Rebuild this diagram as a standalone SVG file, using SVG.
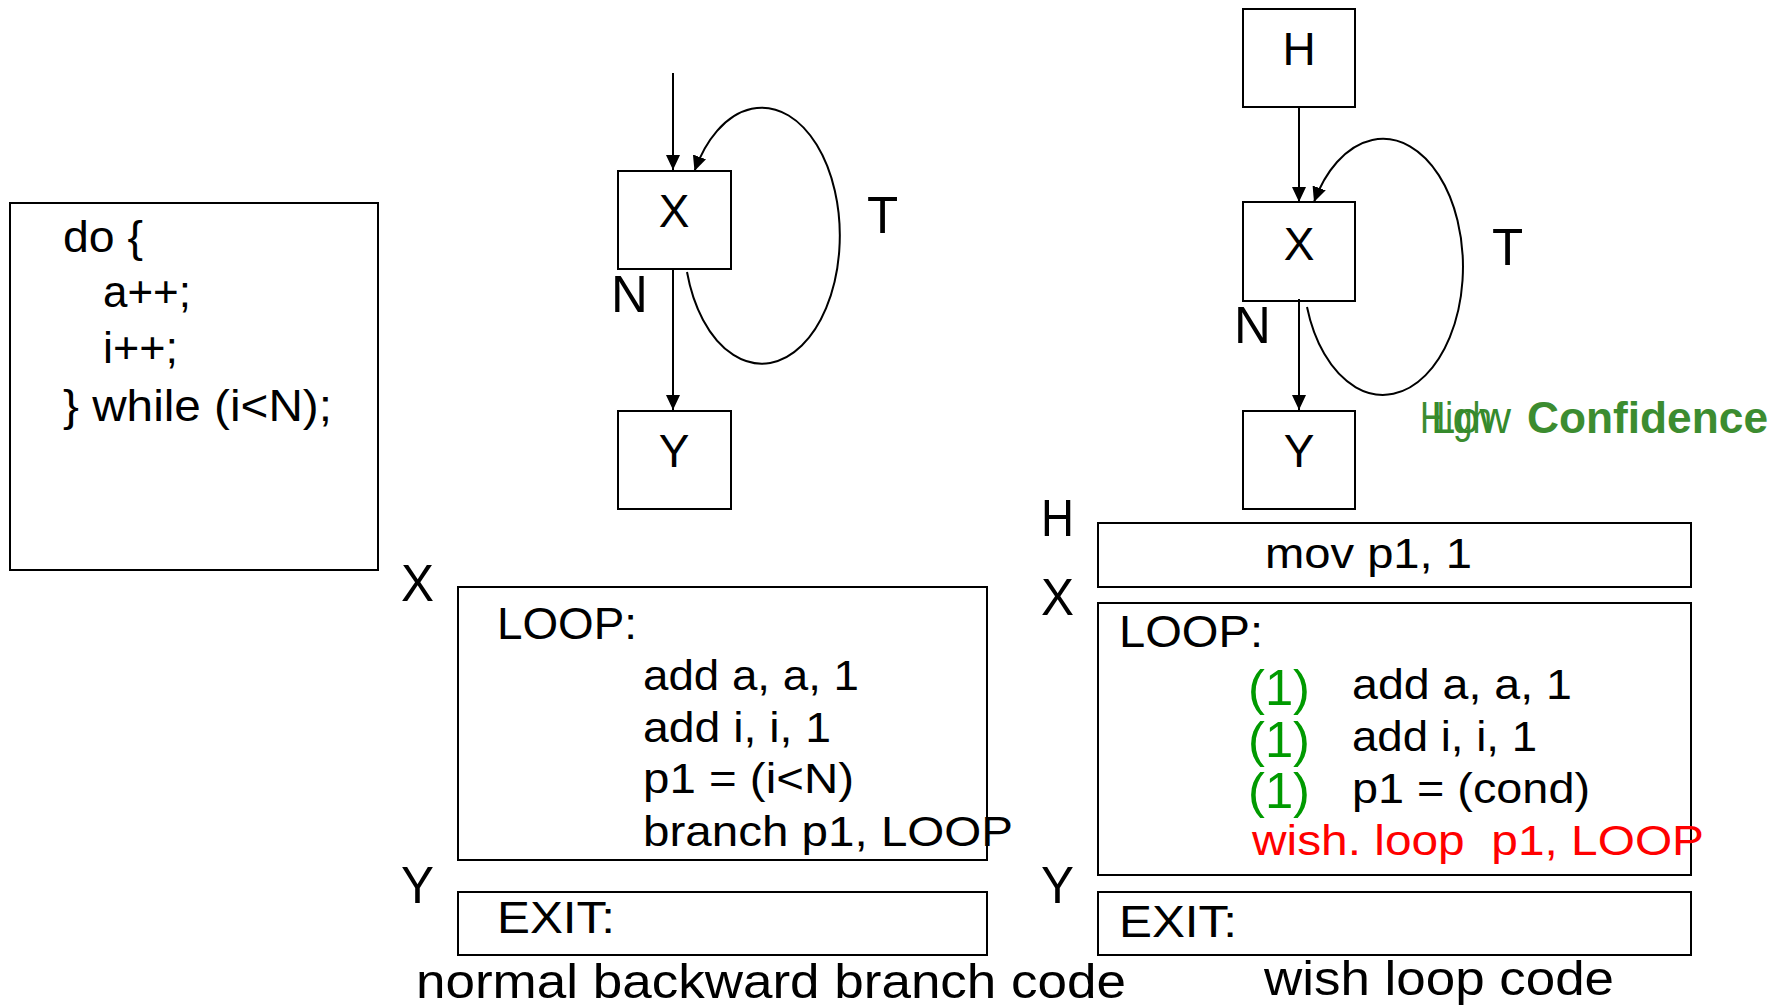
<svg xmlns="http://www.w3.org/2000/svg" width="1781" height="1006" viewBox="0 0 1781 1006">
  <style>
    .t { font-family: "Liberation Sans", Arial, sans-serif; fill: #000; }
    .box { fill: #fff; stroke: #000; stroke-width: 2; }
    .edge { fill: none; stroke: #000; stroke-width: 2; }
    .code { font-size: 45px; }
    .node { font-size: 46px; text-anchor: middle; }
    .lbl { font-size: 51px; }
    .head { font-size: 45px; }
    .asm { font-size: 43px; }
    .cap { font-size: 48px; }
    .grn { font-size: 50px; fill: #009a00; }
    .red { fill: #ff0000; white-space: pre; }
    .conf { font-size: 44px; fill: #3c8c30; }
  </style>
  <defs>
    <marker id="arrow" markerUnits="userSpaceOnUse" markerWidth="16" markerHeight="14" refX="15" refY="7" orient="auto">
      <path d="M0,0 L15,7 L0,14 z" fill="#000"/>
    </marker>
  </defs>

  <rect width="1781" height="1006" fill="#fff"/>

  <!-- source code -->
  <g id="source">
    <rect class="box" x="10" y="203" width="368" height="367"/>
    <text class="t code" x="63" y="252" textLength="80" lengthAdjust="spacingAndGlyphs">do {</text>
    <text class="t code" x="103" y="307" textLength="88" lengthAdjust="spacingAndGlyphs">a++;</text>
    <text class="t code" x="103" y="363" textLength="75" lengthAdjust="spacingAndGlyphs">i++;</text>
    <text class="t code" x="63" y="421" textLength="269" lengthAdjust="spacingAndGlyphs">} while (i&lt;N);</text>
  </g>

  <!-- left CFG -->
  <g id="n1-X">
    <rect class="box" x="618" y="171" width="113" height="98"/>
    <text class="t node" x="674" y="227">X</text>
  </g>
  <g id="n1-Y">
    <rect class="box" x="618" y="411" width="113" height="98"/>
    <text class="t node" x="674" y="467">Y</text>
  </g>

  <!-- right CFG -->
  <g id="n2-H">
    <rect class="box" x="1243" y="9" width="112" height="98"/>
    <text class="t node" x="1299" y="65">H</text>
  </g>
  <g id="n2-X">
    <rect class="box" x="1243" y="202" width="112" height="99"/>
    <text class="t node" x="1299" y="260">X</text>
  </g>
  <g id="n2-Y">
    <rect class="box" x="1243" y="411" width="112" height="98"/>
    <text class="t node" x="1299" y="467">Y</text>
  </g>

  <g id="connectors">
    <line class="edge" x1="673" y1="73" x2="673" y2="170" marker-end="url(#arrow)"/>
    <line class="edge" x1="673" y1="269" x2="673" y2="410" marker-end="url(#arrow)"/>
    <path class="edge" d="M687,272 A78,128 0 1 0 694.5,171" marker-end="url(#arrow)"/>

    <line class="edge" x1="1299" y1="107" x2="1299" y2="202" marker-end="url(#arrow)"/>
    <line class="edge" x1="1299" y1="299" x2="1299" y2="410" marker-end="url(#arrow)"/>
    <path class="edge" d="M1307,307 A80,128 0 1 0 1314,202" marker-end="url(#arrow)"/>
  </g>

  <!-- edge labels -->
  <g id="edge-labels">
    <text class="t lbl" x="867" y="233">T</text>
    <text class="t lbl" x="611" y="312">N</text>
    <text class="t lbl" x="1492" y="265">T</text>
    <text class="t lbl" x="1234" y="343">N</text>
  </g>

  <!-- confidence annotation: two overlaid words in front of "Confidence" -->
  <g id="confidence">
    <text class="t conf" x="1420" y="433" textLength="72" lengthAdjust="spacingAndGlyphs">High</text>
    <text class="t conf" x="1431" y="433" textLength="80" lengthAdjust="spacingAndGlyphs" style="fill:#358a2c">Low</text>
    <text class="t conf" x="1527" y="433" font-weight="bold" textLength="241" lengthAdjust="spacingAndGlyphs">Confidence</text>
  </g>

  <!-- normal backward branch code -->
  <g id="normal-code">
    <text class="t lbl" x="401" y="601" textLength="33" lengthAdjust="spacingAndGlyphs">X</text>
    <rect class="box" x="458" y="587" width="529" height="273"/>
    <text class="t head" x="497" y="639" textLength="140" lengthAdjust="spacingAndGlyphs">LOOP:</text>
    <text class="t asm" x="643" y="690" textLength="216" lengthAdjust="spacingAndGlyphs">add a, a, 1</text>
    <text class="t asm" x="643" y="742" textLength="188" lengthAdjust="spacingAndGlyphs">add i, i, 1</text>
    <text class="t asm" x="643" y="793" textLength="211" lengthAdjust="spacingAndGlyphs">p1 = (i&lt;N)</text>
    <text class="t asm" x="643" y="846" textLength="370" lengthAdjust="spacingAndGlyphs">branch p1, LOOP</text>

    <text class="t lbl" x="401" y="903" textLength="33" lengthAdjust="spacingAndGlyphs">Y</text>
    <rect class="box" x="458" y="892" width="529" height="63"/>
    <text class="t head" x="497" y="933" textLength="118" lengthAdjust="spacingAndGlyphs">EXIT:</text>

    <text class="t cap" x="416" y="998" textLength="710" lengthAdjust="spacingAndGlyphs">normal backward branch code</text>
  </g>

  <!-- wish loop code -->
  <g id="wish-code">
    <text class="t lbl" x="1041" y="536" textLength="33" lengthAdjust="spacingAndGlyphs">H</text>
    <rect class="box" x="1098" y="523" width="593" height="64"/>
    <text class="t asm" x="1265" y="568" textLength="207" lengthAdjust="spacingAndGlyphs">mov p1, 1</text>

    <text class="t lbl" x="1041" y="615" textLength="33" lengthAdjust="spacingAndGlyphs">X</text>
    <rect class="box" x="1098" y="603" width="593" height="272"/>
    <text class="t head" x="1119" y="647" textLength="144" lengthAdjust="spacingAndGlyphs">LOOP:</text>
    <text class="t grn" x="1248" y="705" textLength="62" lengthAdjust="spacingAndGlyphs">(1)</text>
    <text class="t asm" x="1352" y="699" textLength="220" lengthAdjust="spacingAndGlyphs">add a, a, 1</text>
    <text class="t grn" x="1248" y="757" textLength="62" lengthAdjust="spacingAndGlyphs">(1)</text>
    <text class="t asm" x="1352" y="751" textLength="185" lengthAdjust="spacingAndGlyphs">add i, i, 1</text>
    <text class="t grn" x="1248" y="808" textLength="62" lengthAdjust="spacingAndGlyphs">(1)</text>
    <text class="t asm" x="1352" y="803" textLength="238" lengthAdjust="spacingAndGlyphs">p1 = (cond)</text>
    <text class="t asm red" x="1252" y="855" textLength="452" lengthAdjust="spacingAndGlyphs">wish. loop  p1, LOOP</text>

    <text class="t lbl" x="1041" y="903" textLength="33" lengthAdjust="spacingAndGlyphs">Y</text>
    <rect class="box" x="1098" y="892" width="593" height="63"/>
    <text class="t head" x="1119" y="937" textLength="118" lengthAdjust="spacingAndGlyphs">EXIT:</text>

    <text class="t cap" x="1264" y="995" textLength="350" lengthAdjust="spacingAndGlyphs">wish loop code</text>
  </g>
</svg>
